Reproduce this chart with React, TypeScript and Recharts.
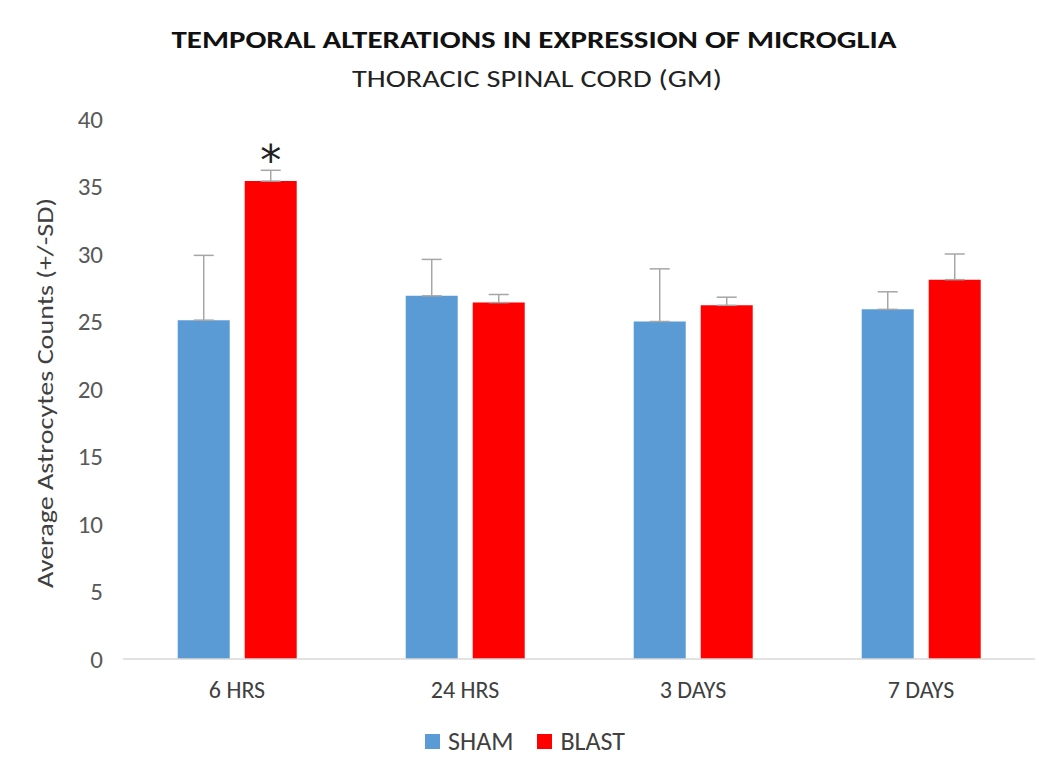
import React from 'react';
import { BarChart, Bar, XAxis, YAxis, Legend, ErrorBar, LabelList } from 'recharts';

const categories = ['6 HRS', '24 HRS', '3 DAYS', '7 DAYS'];
const shamValues = [25.1, 26.9, 25.0, 25.9];
const shamSD = [4.8, 2.7, 3.9, 1.3];
const blastValues = [35.4, 26.4, 26.2, 28.1];
const blastSD = [0.8, 0.6, 0.6, 1.9];
const blastSignificant = [true, false, false, false];
const yTicks = [0, 5, 10, 15, 20, 25, 30, 35, 40];

const SHAM_COLOR = '#5b9bd5';
const BLAST_COLOR = '#ff0000';

// Excel style: error bars only go upwards
const data = categories.map((name, i) => ({
  name,
  sham: shamValues[i],
  shamErr: [0, shamSD[i]],
  blast: blastValues[i],
  blastErr: [0, blastSD[i]],
  sig: blastSignificant[i] ? '*' : '',
}));

const FONT = 'Calibri, Carlito, Lato, "Open Sans", sans-serif';

const Star = (props: any) => {
  const { x, y, width, value } = props;
  if (!value) return null;
  return (
    <text x={x + width / 2} y={y - 6} textAnchor="middle" fontSize={42} fontFamily="DejaVu Sans" fill="#222">
      {value}
    </text>
  );
};

const legendItems = [
  { label: 'SHAM', color: SHAM_COLOR },
  { label: 'BLAST', color: BLAST_COLOR },
];

const LegendContent = () => (
  <div style={{ display: 'flex', justifyContent: 'center', alignItems: 'center', gap: 24 }}>
    {legendItems.map((it) => (
      <div key={it.label} style={{ display: 'flex', alignItems: 'center' }}>
        <span style={{ display: 'inline-block', width: 15, height: 15, background: it.color, marginRight: 8 }} />
        <span style={{ fontSize: 26, color: '#404040', fontFamily: FONT }}>{it.label}</span>
      </div>
    ))}
  </div>
);

const App: React.FC = () => {
  return (
    <div style={{ position: 'absolute', left: 0, top: 0, width: 1050, height: 769, background: '#fff', fontFamily: FONT }}>
      {/* titles and y axis title */}
      <svg width={1050} height={769} style={{ position: 'absolute', left: 0, top: 0 }}>
        <text x={534} y={48} textAnchor="middle" fontSize={25} fontWeight="bold" fontFamily={FONT} fill="#111"
          textLength={725} lengthAdjust="spacingAndGlyphs">
          TEMPORAL ALTERATIONS IN EXPRESSION OF MICROGLIA
        </text>
        <text x={537} y={87} textAnchor="middle" fontSize={25} fontFamily={FONT} fill="#222"
          textLength={370} lengthAdjust="spacingAndGlyphs">
          THORACIC SPINAL CORD (GM)
        </text>
        <text x={53} y={393} transform="rotate(-90 53 393)" textAnchor="middle" fontSize={23} fontFamily={FONT}
          fill="#404040" textLength={390} lengthAdjust="spacingAndGlyphs">
          Average Astrocytes Counts (+/-SD)
        </text>
      </svg>

      <div style={{ position: 'absolute', left: 0, top: 0 }}>
        <BarChart
          width={1050}
          height={769}
          data={data}
          margin={{ top: 119, right: 15, bottom: 28, left: 0 }}
          barCategoryGap="24%"
          barGap={15}
        >
          <XAxis
            dataKey="name"
            tickLine={false}
            axisLine={{ stroke: '#d9d9d9', strokeWidth: 1.5 }}
            tick={{ fill: '#404040', fontSize: 24, fontFamily: FONT }}
            tickMargin={16}
            height={50}
          />
          <YAxis
            domain={[0, 40]}
            ticks={yTicks}
            interval={0}
            axisLine={false}
            tickLine={false}
            tickSize={0}
            tickMargin={20}
            width={123}
            tick={{ fill: '#595959', fontSize: 25, fontFamily: FONT }}
          />
          <Legend content={<LegendContent />} wrapperStyle={{ top: 725, left: 0, width: 1050 }} />
          <Bar dataKey="sham" name="SHAM" fill={SHAM_COLOR} isAnimationActive={false}>
            <ErrorBar dataKey="shamErr" direction="y" width={10} stroke="#a6a6a6" strokeWidth={1.5} />
          </Bar>
          <Bar dataKey="blast" name="BLAST" fill={BLAST_COLOR} isAnimationActive={false}>
            <ErrorBar dataKey="blastErr" direction="y" width={10} stroke="#a6a6a6" strokeWidth={1.5} />
            <LabelList dataKey="sig" content={<Star />} />
          </Bar>
        </BarChart>
      </div>
    </div>
  );
};

export default App;
